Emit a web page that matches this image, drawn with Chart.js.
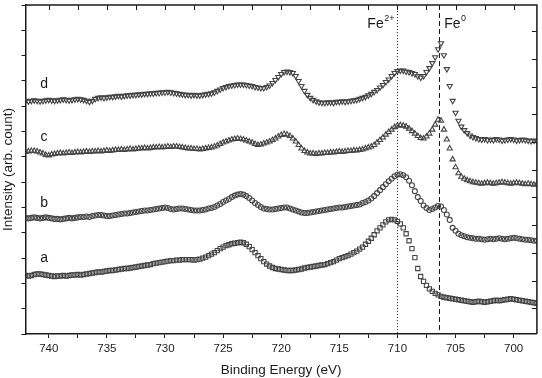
<!DOCTYPE html>
<html><head><meta charset="utf-8">
<script src="https://cdn.jsdelivr.net/npm/chart.js@4"></script>
<style>html,body{margin:0;padding:0;background:#fff}canvas{display:block}</style>
</head><body><canvas id="c" width="542" height="378"></canvas>
<script>
// Binding energy grid (eV)
const energies = [742,741.75,741.5,741.25,741,740.75,740.5,740.25,740,739.75,739.5,739.25,739,738.75,738.5,738.25,738,737.75,737.5,737.25,737,736.75,736.5,736.25,736,735.75,735.5,735.25,735,734.75,734.5,734.25,734,733.75,733.5,733.25,733,732.75,732.5,732.25,732,731.75,731.5,731.25,731,730.75,730.5,730.25,730,729.75,729.5,729.25,729,728.75,728.5,728.25,728,727.75,727.5,727.25,727,726.75,726.5,726.25,726,725.75,725.5,725.25,725,724.75,724.5,724.25,724,723.75,723.5,723.25,723,722.75,722.5,722.25,722,721.75,721.5,721.25,721,720.75,720.5,720.25,720,719.75,719.5,719.25,719,718.75,718.5,718.25,718,717.75,717.5,717.25,717,716.75,716.5,716.25,716,715.75,715.5,715.25,715,714.75,714.5,714.25,714,713.75,713.5,713.25,713,712.75,712.5,712.25,712,711.75,711.5,711.25,711,710.75,710.5,710.25,710,709.75,709.5,709.25,709,708.75,708.5,708.25,708,707.75,707.5,707.25,707,706.75,706.5,706.25,706,705.75,705.5,705.25,705,704.75,704.5,704.25,704,703.75,703.5,703.25,703,702.75,702.5,702.25,702,701.75,701.5,701.25,701,700.75,700.5,700.25,700,699.75,699.5,699.25,699,698.75,698.5,698.25,698];

// Intensities (arb. count, offset spectra)
const seriesA = [59,58.5,59,60, 60.5,60.5,60,59.5, 59,58.5,58,58.5, 58.5,59,58.5,59, 59.5,59.5,60,59.5, 60,60.5,61,61.5, 62,62.5,62.5,63, 63.5,64,64,64.5, 65,65.5,66,66, 66.5,67,67.5,68, 68.5,69,69.5,70, 71,71.5,72,72.5, 73,73.5,74,74, 74.5,74.5,75,75, 75,75,74.5,75, 75.5,76.5,77.5,79, 80.5,82,84,86, 87.5,89,90,91, 91.5,92,92.5,92, 90.5,88,85,82, 79,76,73,70.5, 68.5,67,66,65.5, 65,64.5,64,64, 64,64.5,65,65.5, 66.5,67,67.5,68, 68.5,69,69.5,70, 71,72,73,74.5, 76,77,78,79, 80.5,82,83.5,85.5, 87.5,90.5,93.5,96.5, 100,104,107,110, 113,115,115.5,115, 113.5,111,107,101, 94,86,77,66, 58,53,49,45.5, 43,41,39.5,38, 37,36.5,36,35.5, 35,34.5,34,33.5, 33,32.5,32,32.5, 33,32.5,32,32.5, 33,33.5,34,33.5, 34,34.5,35,35.5, 35,34.5,34,33.5, 33,32.5,32,31.5, 31];
const seriesB = [117,116.5,117,117.5, 117,116.5,117,117.5, 117,116.5,116,116, 115.5,116,116.5,117, 116.5,117,117.5,118, 118,118.5,118,119, 119.5,120,120,119.5, 119,119,119.5,120, 120.5,121,121.5,121.5, 122,122.5,123,123.5, 124,124.5,124.5,125, 125.5,126,126.5,127, 127.5,127,126,125.5, 126,126.5,126.5,126, 125.5,125,124.5,124.5, 124.5,125,125.5,126.5, 127,128,129.5,131, 133,134.5,136,138, 139.5,140.5,141,140.5, 139,137,134.5,132, 130,128,126.5,126, 125.5,125.5,126,126.5, 127,127.5,127.5,126.5, 125.5,124.5,123.5,122.5, 122,122,122.5,123, 123.5,124,124.5,125, 125.5,126,126.5,127, 127.5,127.5,128,128.5, 129,129.5,130,130.5, 132,133,134.5,136.5, 139,142,145,148, 151,154,156.5,159, 160.5,161,160,158, 154.5,150,144,138, 134,129.5,127,125, 126,127.5,129,128.5, 125,120.5,115,107, 104,101,99.5,98.5, 97.5,97,96.5,96, 96,95.5,95,95.5, 96,95.5,96,96.5, 96,95.5,96,96.5, 97,96.5,96,95.5, 95,95,94.5,94, 94];
const seriesC = [183.5,184,184.5,184.5, 184,183,182,180.5, 180,181,181.5,182, 182.5,182,182.5,183, 182.5,183,183.5,183, 183.5,184,183.5,184, 184,184.5,184,184.5, 185,184.5,185,185.5, 185.5,186,185.5,186, 186.5,186,186.5,187, 187,187.5,187,187.5, 188,188,188.5,188, 188.5,189,188.5,189, 189,188.5,188,187.5, 187,187,186.5,186.5, 186,186.5,187,187.5, 188,189,190,191.5, 193,194,195,196, 196.5,197,196.5,196, 195,194,193,191.5, 190.5,191,192,193, 194,195.5,197,199, 200.5,201.5,201,199.5, 197,194,190.5,187, 184.5,183,182,182, 181.5,182,182,182.5, 182.5,183,183,183.5, 184,183.5,184,184.5, 184.5,185,185,185.5, 186,187,188,189, 190.5,193,195.5,198, 201,203.5,206,208.5, 210,210.5,210,209, 207,204.5,202,199.5, 197.5,197,199,202, 206,211,216,215, 206,196,187,176, 168,162,158.5,156.5, 155,154,153,152.5, 152,151.5,152,152.5, 152,151.5,152,152.5, 153,152.5,152,151.5, 152,152.5,152,151.5, 151,151.5,151,150.5, 151];
const seriesD = [235,234.5,235,235.5, 235,234.5,235,235.5, 236,235.5,235,235.5, 236,236.5,236,235.5, 236,236.5,237,236.5, 236,235,234,235, 237,238,238.5,238, 238.5,239,239,239.5, 240,239.5,240,240.5, 240.5,241,241,241.5, 241.5,242,242,242.5, 242.5,243,243,243.5, 243.5,244,243.5,243, 242.5,242,241.5,241, 241,240.5,241,240.5, 240.5,241,241.5,242, 242.5,243.5,245,246.5, 248,249,250,250.5, 251,251.5,251.5,251.5, 251,250.5,250,249, 248.5,248,248,249, 250.5,253,256,259, 262,264,264.5,264, 263,260,255,250, 245,241,238,236, 234.5,233.5,233,233, 233.5,233.5,233,234, 234,234.5,234,234.5, 235,235.5,236,237, 238,239,240.5,242, 244,246,248.5,251, 254,256.5,260,263, 265,265.5,265.5,264.5, 264,263,262,260, 258.5,260,264,268, 273,279,287,293, 281,267,250,235, 223,215,209,205.5, 202.5,200,198.5,197.5, 196.5,196,196.5,195.5, 196,195.5,196.5,196, 195,195.5,196,196.5, 196,195,195.5,196, 195.5,195,194.5,195, 194.5];

const seriesNames = ['a','b','c','d'];
const seriesMarkers = ['rect','circle','triangle','triangle'];
const labelEnergy = 740.4;
const labelLevels = [76, 132, 198, 252];
const xTickLabels = [740,735,730,725,720,715,710,705,700];
const refEnergies = [710, 706.4];
const refNames = ['Fe','Fe'];
const refSups = ['2+','0'];

const FONT = "'Liberation Sans', Arial, Helvetica, sans-serif";
const INK = '#1a1a1a';

const allSeries = [seriesA, seriesB, seriesC, seriesD];
const datasets = allSeries.map((s, i) => ({
  label: seriesNames[i],
  data: energies.map((e, k) => ({x: e, y: s[k]})),
  showLine: false,
  pointStyle: seriesMarkers[i],
  rotation: i === 3 ? 180 : 0,
  pointRadius: seriesMarkers[i] === 'circle' ? 2.5 : 3,
  pointBorderWidth: 1.1,
  pointBorderColor: '#444',
  pointBackgroundColor: 'rgba(255,255,255,0)'
}));

const decor = {
  id: 'decor',
  beforeDatasetsDraw(chart) {
    const {ctx, chartArea: a, scales: {x}} = chart;
    const dashes = [[1, 2], [5, 3]];
    refEnergies.forEach((e, i) => {
      const px = Math.round(x.getPixelForValue(e)) + 0.5;
      ctx.save();
      ctx.setLineDash(dashes[i]);
      ctx.strokeStyle = INK;
      ctx.lineWidth = 1;
      ctx.beginPath(); ctx.moveTo(px, a.top); ctx.lineTo(px, a.bottom); ctx.stroke();
      ctx.restore();
    });
  },
  afterDraw(chart) {
    const {ctx, chartArea: a, scales: {x, y, y2}} = chart;
    ctx.save();
    ctx.strokeStyle = INK;
    ctx.lineWidth = 1.5;
    ctx.beginPath();
    ctx.moveTo(a.left, a.top); ctx.lineTo(a.right, a.top); ctx.lineTo(a.right, a.bottom);
    ctx.stroke();
    ctx.lineWidth = 1;
    ctx.beginPath();
    x.ticks.forEach(t => {
      const px = Math.round(x.getPixelForValue(t.value)) + 0.5;
      ctx.moveTo(px, a.top); ctx.lineTo(px, a.top + 5);
    });
    y2.ticks.forEach(t => {
      const py = Math.round(y2.getPixelForValue(t.value)) + 0.5;
      ctx.moveTo(a.right, py); ctx.lineTo(a.right - 5, py);
    });
    ctx.stroke();
    // series letters
    ctx.fillStyle = INK;
    ctx.font = '14px ' + FONT;
    ctx.textAlign = 'center';
    ctx.textBaseline = 'middle';
    labelLevels.forEach((lv, i) => {
      ctx.fillText(seriesNames[i], x.getPixelForValue(labelEnergy), y.getPixelForValue(lv));
    });
    // Fe labels
    ctx.textBaseline = 'alphabetic';
    ctx.textAlign = 'left';
    refEnergies.forEach((e, i) => {
      const px = x.getPixelForValue(e);
      ctx.font = '14px ' + FONT;
      const w1 = ctx.measureText(refNames[i]).width;
      ctx.font = '9px ' + FONT;
      const w2 = ctx.measureText(refSups[i]).width;
      const start = i === 0 ? px - 3 - w1 - w2 - 0.5 : px + 5;
      ctx.font = '14px ' + FONT;
      ctx.fillText(refNames[i], start, 28);
      ctx.font = '9px ' + FONT;
      ctx.fillText(refSups[i], start + w1 + 0.5, 21);
    });
    ctx.restore();
  }
};

new Chart(document.getElementById('c'), {
  type: 'scatter',
  data: {datasets},
  plugins: [decor],
  options: {
    responsive: false,
    devicePixelRatio: 1,
    animation: false,
    layout: {padding: {left: 0, right: 1, top: 2.5, bottom: 0}},
    plugins: {legend: {display: false}, tooltip: {enabled: false}},
    scales: {
      x: {
        type: 'linear', position: 'bottom', min: 698, max: 742, reverse: true,
        ticks: {
          stepSize: 2.5, includeBounds: false, autoSkip: false, maxRotation: 0, padding: 4,
          color: INK, font: {size: 11.5, family: FONT},
          callback: v => xTickLabels.includes(v) ? String(v) : ''
        },
        grid: {drawOnChartArea: false, tickLength: 4, color: INK, lineWidth: 1},
        border: {color: INK, width: 1.5},
        title: {display: true, text: 'Binding Energy (eV)', color: INK, font: {size: 13.5, family: FONT}, padding: 0},
        afterFit: s => { s.height = 44; }
      },
      y: {
        type: 'linear', position: 'left', min: 0, max: 331.5,
        ticks: {stepSize: 25.5, includeBounds: false, display: false},
        grid: {drawOnChartArea: false, tickLength: 4, color: INK, lineWidth: 1},
        border: {color: INK, width: 1.5},
        title: {display: true, text: 'Intensity (arb. count)', color: INK, font: {size: 13.5, family: FONT}, padding: 0},
        afterFit: s => { s.width = 25.5; }
      },
      y2: {
        type: 'linear', position: 'right', min: -0.932, max: 10.95,
        ticks: {stepSize: 1, includeBounds: false, display: false},
        grid: {display: false, drawTicks: false},
        border: {display: false},
        afterFit: s => { s.width = 0; }
      }
    }
  }
});
</script>
</body></html>
